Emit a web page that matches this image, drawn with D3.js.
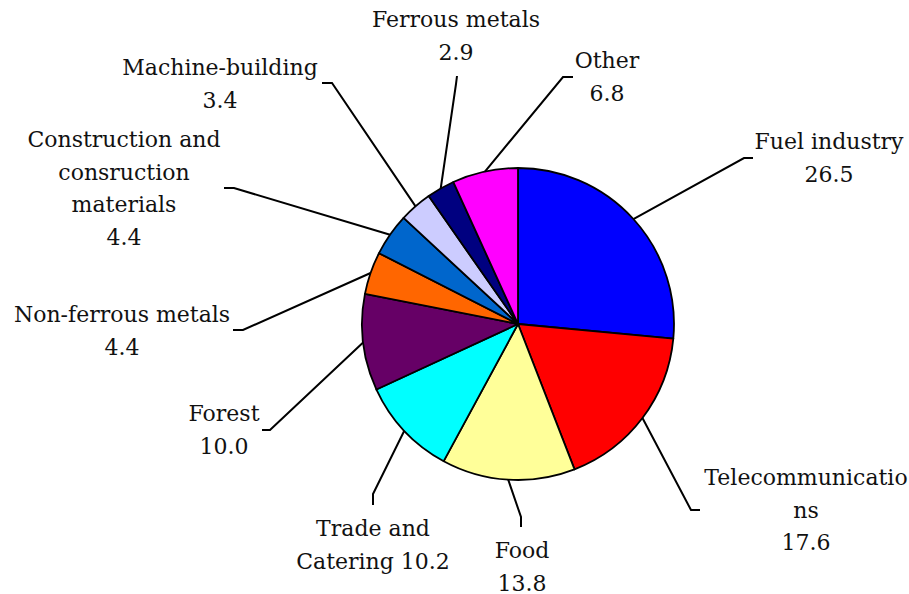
<!DOCTYPE html>
<html>
<head>
<meta charset="utf-8">
<script src="https://cdn.jsdelivr.net/npm/d3@7"></script>
<style>
  body { margin: 0; background: #fff; }
  svg text { font-family: "Palatino Linotype", "Book Antiqua", Palatino, "DejaVu Serif", serif; font-size: 22px; fill: #111; }
</style>
</head>
<body>
<div id="chart"></div>
<script>
// sectors, clockwise from 12 o'clock
var categories = ["Fuel industry", "Telecommunications", "Food", "Trade and Catering", "Forest",
                  "Non-ferrous metals", "Construction and consruction materials", "Machine-building",
                  "Ferrous metals", "Other"];
var values = [26.5, 17.6, 13.8, 10.2, 10.0, 4.4, 4.4, 3.4, 2.9, 6.8];
var colors = ["#0000FF", "#FF0000", "#FFFF99", "#00FFFF", "#660066",
              "#FF6600", "#0066CC", "#CCCCFF", "#000080", "#FF00FF"];
// how each label wraps (value goes on its own line unless inline)
var labelLines = [["Fuel industry"], ["Telecommunicatio", "ns"], ["Food"], ["Trade and", "Catering"],
                  ["Forest"], ["Non-ferrous metals"], ["Construction and", "consruction", "materials"],
                  ["Machine-building"], ["Ferrous metals"], ["Other"]];
var valueInline = [false, false, false, true, false, false, false, false, false, false];

var width = 909, height = 594;
var cx = 518, cy = 324, radius = 156;
var lineH = 32.5;

// label placement: text centre x, first baseline y, leader elbow and leader end
var labelPos = [
  {x: 829, y: 149, elbow: [744, 158], end: [753, 158]},
  {x: 806, y: 485, elbow: [691, 510], end: [700, 510]},
  {x: 522, y: 558, elbow: [521, 517], end: [521, 527]},
  {x: 373, y: 536, elbow: [373, 494], end: [373, 505]},
  {x: 224, y: 421, elbow: [270, 430], end: [262, 430]},
  {x: 122, y: 322, elbow: [243, 330], end: [233, 330]},
  {x: 124, y: 147, elbow: [234, 188], end: [224, 188]},
  {x: 220, y: 75,  elbow: [332, 83],  end: [322, 83]},
  {x: 456, y: 27,  elbow: [456, 84],  end: [457, 76]},
  {x: 607, y: 68,  elbow: [563, 77],  end: [573, 77]}
];

var data = categories.map(function(c, i) {
  return {name: c, value: values[i], color: colors[i], lines: labelLines[i], inline: valueInline[i], pos: labelPos[i]};
});

var svg = d3.select("#chart").append("svg")
    .attr("width", width)
    .attr("height", height);

var pie = d3.pie().sort(null).value(function(d) { return d.value; });
var arc = d3.arc().innerRadius(0).outerRadius(radius);
var arcs = pie(data);

var g = svg.append("g").attr("transform", "translate(" + cx + "," + cy + ")");

g.selectAll("path.slice")
  .data(arcs)
  .enter().append("path")
    .attr("class", "slice")
    .attr("d", arc)
    .attr("fill", function(d) { return d.data.color; })
    .attr("stroke", "#000")
    .attr("stroke-width", 1.8)
    .attr("stroke-linejoin", "round");

// leader lines start at the middle of each slice's rim
var line = d3.line();
svg.selectAll("path.leader")
  .data(arcs)
  .enter().append("path")
    .attr("class", "leader")
    .attr("d", function(d) {
      var a = (d.startAngle + d.endAngle) / 2;
      var start = [cx + radius * Math.sin(a), cy - radius * Math.cos(a)];
      return line([start, d.data.pos.elbow, d.data.pos.end]);
    })
    .attr("fill", "none")
    .attr("stroke", "#000")
    .attr("stroke-width", 2);

var labels = svg.selectAll("text.label")
  .data(data)
  .enter().append("text")
    .attr("class", "label")
    .attr("text-anchor", "middle");

labels.each(function(d) {
  var t = d3.select(this);
  var rows = d.lines.slice();
  var v = d.value.toFixed(1);
  if (d.inline) rows[rows.length - 1] += " " + v; else rows.push(v);
  rows.forEach(function(r, i) {
    t.append("tspan")
      .attr("x", d.pos.x)
      .attr("y", d.pos.y + i * lineH)
      .text(r);
  });
});
</script>
</body>
</html>
